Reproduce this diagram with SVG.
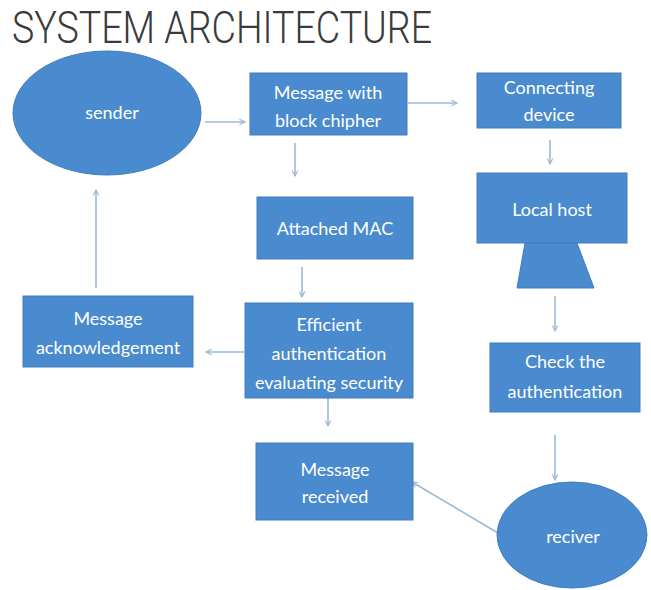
<svg xmlns="http://www.w3.org/2000/svg" width="651" height="590" viewBox="0 0 651 590">
  <defs>
    <style>
      .node { fill: #4a8bcf; stroke: #3f7dbf; stroke-width: 1; }
      .label { font-family: Lato, "Open Sans", sans-serif; font-size: 18px; fill: #ffffff; text-anchor: middle; }
      .link { stroke: #9bb9d9; stroke-width: 1.6; fill: none; marker-end: url(#arrow); }
      .title { font-family: Roboto, "Liberation Sans", sans-serif; font-weight: 300; font-size: 45px; fill: #3a3a3a; }
    </style>
    <marker id="arrow" viewBox="0 0 10 10" refX="9" refY="5" markerWidth="7" markerHeight="7" markerUnits="userSpaceOnUse" orient="auto">
      <path d="M1,1 L9,5 L1,9" fill="none" stroke="#9bb9d9" stroke-width="1.6"/>
    </marker>
  </defs>

  <rect width="651" height="590" fill="#ffffff"/>

  <g id="title">
    <text class="title" x="12" y="43" textLength="420" lengthAdjust="spacingAndGlyphs">SYSTEM ARCHITECTURE</text>
  </g>

  <g id="connectors">
    <line class="link" x1="205" y1="122" x2="245" y2="122"/>
    <line class="link" x1="408" y1="103" x2="457" y2="103"/>
    <line class="link" x1="295" y1="143" x2="295" y2="176"/>
    <line class="link" x1="550" y1="140" x2="550" y2="164"/>
    <line class="link" x1="302" y1="267" x2="302" y2="297"/>
    <line class="link" x1="244" y1="352" x2="206" y2="352"/>
    <line class="link" x1="96" y1="288" x2="96" y2="190"/>
    <line class="link" x1="555" y1="296" x2="555" y2="331"/>
    <line class="link" x1="328" y1="398" x2="328" y2="426"/>
    <line class="link" x1="555" y1="435" x2="555" y2="480"/>
    <line class="link" x1="498" y1="533" x2="412" y2="482"/>
  </g>

  <g id="sender">
    <ellipse class="node" cx="107" cy="113" rx="94" ry="62"/>
    <text class="label" x="112" y="119">sender</text>
  </g>

  <g id="block-cipher">
    <rect class="node" x="250" y="73" width="157" height="62"/>
    <text class="label" x="328" y="99">Message with</text>
    <text class="label" x="328" y="127">block chipher</text>
  </g>

  <g id="connecting-device">
    <rect class="node" x="477" y="73" width="144" height="55"/>
    <text class="label" x="549" y="94">Connecting</text>
    <text class="label" x="549" y="121">device</text>
  </g>

  <g id="local-host">
    <rect class="node" x="477" y="173" width="150" height="70"/>
    <polygon class="node" points="525,243 577,243 594,288 517,288"/>
    <text class="label" x="552" y="216">Local host</text>
  </g>

  <g id="attached-mac">
    <rect class="node" x="257" y="197" width="156" height="62"/>
    <text class="label" x="335" y="235">Attached MAC</text>
  </g>

  <g id="efficient-auth">
    <rect class="node" x="245" y="303" width="168" height="95"/>
    <text class="label" x="329" y="331">Efficient</text>
    <text class="label" x="329" y="360">authentication</text>
    <text class="label" x="329" y="389">evaluating security</text>
  </g>

  <g id="acknowledgement">
    <rect class="node" x="23" y="296" width="170" height="71"/>
    <text class="label" x="108" y="325">Message</text>
    <text class="label" x="108" y="354">acknowledgement</text>
  </g>

  <g id="check-auth">
    <rect class="node" x="490" y="343" width="150" height="69"/>
    <text class="label" x="565" y="368">Check the</text>
    <text class="label" x="565" y="398">authentication</text>
  </g>

  <g id="message-received">
    <rect class="node" x="256" y="443" width="157" height="77"/>
    <text class="label" x="335" y="476">Message</text>
    <text class="label" x="335" y="503">received</text>
  </g>

  <g id="receiver">
    <ellipse class="node" cx="572" cy="535" rx="75" ry="53"/>
    <text class="label" x="573" y="543">reciver</text>
  </g>
</svg>
